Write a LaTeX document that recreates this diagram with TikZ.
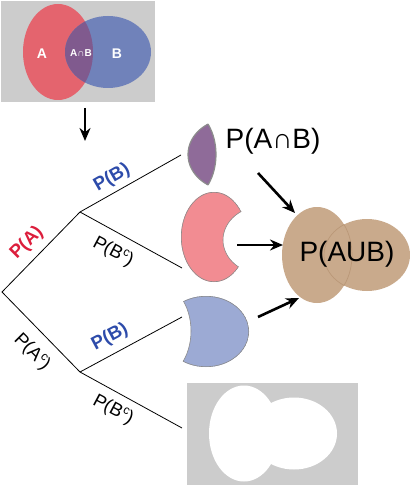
\documentclass[tikz,border=0pt]{standalone}
\usepackage{fontspec}
\setmainfont{Liberation Sans}
\usetikzlibrary{arrows.meta}
\definecolor{vred}{RGB}{228,100,110}
\definecolor{vblue}{RGB}{112,130,186}
\definecolor{vpurp}{RGB}{128,90,142}
\definecolor{vgray}{RGB}{204,204,204}
\definecolor{lpurp}{RGB}{143,107,153}
\definecolor{lpink}{RGB}{242,140,146}
\definecolor{lblue}{RGB}{156,170,212}
\definecolor{edgegray}{RGB}{140,140,140}
\definecolor{brownA}{RGB}{201,170,140}
\definecolor{brownB}{RGB}{186,152,120}
\definecolor{pred}{RGB}{220,30,60}
\definecolor{pblue}{RGB}{45,75,170}
\newcommand{\compl}[1]{P(#1\raisebox{7pt}{\fontsize{12}{12}\selectfont c})}
\begin{document}
\begin{tikzpicture}[x=1pt,y=-1pt,
  branch/.style={line width=0.8pt, black},
  bigarrow/.style={line width=2.6pt, -{Stealth[length=13pt,width=11pt]}},
  treelab/.style={font=\fontsize{18.5}{18.5}\selectfont, inner sep=0pt},
  colab/.style={treelab, font=\fontsize{18.5}{18.5}\selectfont\bfseries},
  biglab/.style={font=\fontsize{28}{28}\selectfont, inner sep=0pt},
  vennlab/.style={text=white, inner sep=0pt, font=\bfseries\fontsize{14}{14}\selectfont},
  shapeedge/.style={draw=edgegray, line width=1.2pt}
]
\useasboundingbox (0,0) rectangle (409,486);

% ---------- top Venn diagram ----------
\fill[vgray] (1,1) rectangle (155,102);
\fill[vred] (58,52) ellipse [x radius=35, y radius=48];
\fill[vblue] (108,52) ellipse [x radius=43, y radius=36];
\begin{scope}
  \clip (58,52) ellipse [x radius=35, y radius=48];
  \fill[vpurp] (108,52) ellipse [x radius=43, y radius=36];
\end{scope}
\node[vennlab] (la) at (42,54) {A};
\node[vennlab, font=\bfseries\fontsize{10}{10}\selectfont] (lab) at (81,53) {A∩B};
\node[vennlab] (lb) at (117,54) {B};

\coordinate (a1s) at (85,108);
\coordinate (a1e) at (85,141);
\draw[bigarrow] (a1s) -- (a1e);

% ---------- tree ----------
\coordinate (root) at (2,292);
\coordinate (n1) at (80,212);
\coordinate (n2) at (80,372);
\coordinate (l1) at (181,155);
\coordinate (l2) at (182,268);
\coordinate (l3) at (182,317);
\coordinate (l4) at (182,428);
\draw[branch] (l1) -- (n1) -- (root) -- (n2) -- (l4);
\draw[branch] (n1) -- (l2);
\draw[branch] (n2) -- (l3);

\node[colab, text=pred, rotate=45] (pa) at (27,243) {P(A)};
\node[treelab, rotate=-45] (pac) at (32,352) {\compl{A}};
\node[colab, text=pblue, rotate=30] (pb1) at (112,178) {P(B)};
\node[treelab, rotate=-28] (pbc1) at (113,252) {\compl{B}};
\node[colab, text=pblue, rotate=28] (pb2) at (110,337) {P(B)};
\node[treelab, rotate=-28] (pbc2) at (113,410) {\compl{B}};

% ---------- purple lens (A and B) ----------
\begin{scope}
  \clip (181,154.5) ellipse [x radius=35, y radius=48];
  \fill[lpurp, draw=edgegray, line width=1.2pt] (231,154.5) ellipse [x radius=43, y radius=36];
\end{scope}
\begin{scope}
  \clip (231,154.5) ellipse [x radius=43, y radius=36];
  \draw[edgegray, line width=1.2pt] (181,154.5) ellipse [x radius=35, y radius=48];
\end{scope}

% ---------- pink shape (A minus B) ----------
\begin{scope}
  \clip (214,237) ellipse [x radius=33, y radius=45];
  \begin{scope}[even odd rule]
    \clip (100,100) rectangle (400,400) (263,240) ellipse [x radius=40, y radius=34];
    \fill[lpink, shapeedge] (214,237) ellipse [x radius=33, y radius=45];
  \end{scope}
  \draw[edgegray, line width=0.6pt] (263,240) ellipse [x radius=40, y radius=34];
\end{scope}

% ---------- blue shape (B minus A) ----------
\begin{scope}
  \clip (206,331.5) ellipse [x radius=43, y radius=35.5];
  \begin{scope}[even odd rule]
    \clip (100,250) rectangle (400,450) (156,331) ellipse [x radius=35, y radius=48];
    \fill[lblue, shapeedge] (206,331.5) ellipse [x radius=43, y radius=35.5];
  \end{scope}
  \draw[edgegray, line width=0.6pt] (156,331) ellipse [x radius=35, y radius=48];
\end{scope}

% ---------- brown union ----------
\fill[brownA] (317,255) ellipse [x radius=35, y radius=48];
\fill[brownA] (367,255) ellipse [x radius=43, y radius=36];
\begin{scope}
  \clip (367,255) ellipse [x radius=43, y radius=36];
  \draw[brownB, line width=0.7pt] (317,255) ellipse [x radius=35, y radius=48];
\end{scope}
\begin{scope}
  \clip (317,255) ellipse [x radius=35, y radius=48];
  \draw[brownB, line width=0.7pt] (367,255) ellipse [x radius=43, y radius=36];
\end{scope}

\node[biglab] (pint) at (273,141) {P(A∩B)};
\node[biglab] (puni) at (347,254) {P(AUB)};

% ---------- arrows to union ----------
\coordinate (a2s) at (258,173);
\coordinate (a2e) at (295,213);
\coordinate (a3s) at (237,245);
\coordinate (a3e) at (283,245);
\coordinate (a4s) at (258,317);
\coordinate (a4e) at (299,298);
\draw[bigarrow] (a2s) -- (a2e);
\draw[bigarrow] (a3s) -- (a3e);
\draw[bigarrow] (a4s) -- (a4e);

% ---------- bottom: complement ----------
\fill[vgray] (187,383) rectangle (358,485);
\fill[white] (244,433.5) ellipse [x radius=35, y radius=48];
\fill[white] (294,433.5) ellipse [x radius=43, y radius=36];
\end{tikzpicture}
\end{document}
